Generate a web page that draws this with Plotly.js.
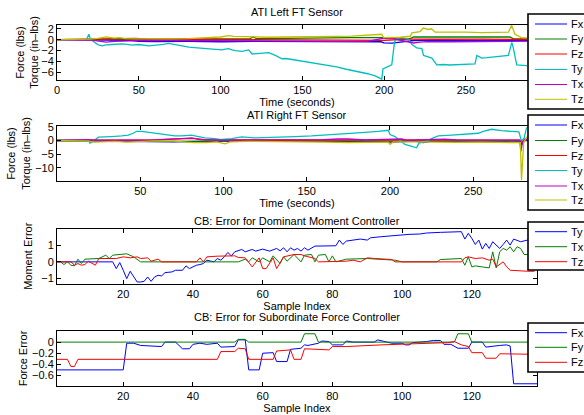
<!DOCTYPE html>
<html><head><meta charset="utf-8">
<script src="https://cdn.plot.ly/plotly-3.0.1.min.js"></script>
<style>html,body{margin:0;padding:0;background:#fff}#chart{width:584px;height:415px}</style>
</head><body><div id="chart"></div>
<script>
// ---------------- DATA ----------------
const ftNames = ['Fx','Fy','Fz','Ty','Tx','Tz'];
const ftColors = ['#0000FF','#008000','#FF0000','#00BFBF','#BF00BF','#BFBF00'];
const domNames = ['Ty','Tx','Tz'];
const subNames = ['Fx','Fy','Fz'];
const errColors = ['#0000FF','#008000','#FF0000'];

// ATI Left FT Sensor (time in seconds)
const leftFx_t = [0,20,30,45,50,60,80,100,120,140,160,180,198,200,205,210,218,230,250,270,278,280,293.5];
const leftFx   = [0,0,-0.05,-0.1,-0.3,-0.35,-0.3,-0.38,-0.3,-0.35,-0.38,-0.35,-0.38,-0.6,-0.63,-0.45,-0.15,-0.05,-0.05,-0.05,-0.1,-0.15,-0.15];
const leftFy_t = [0,20,40,60,80,100,118,120,122,140,160,180,199,201,216,218,240,260,277,279,293.5];
const leftFy   = [0,0.05,0.1,0.05,0.1,0.15,0.2,0.5,0.2,0.25,0.38,0.38,0.38,0.2,0.2,0.5,0.5,0.5,0.5,0.15,0.13];
const leftFz_t = [0,20,30,48,55,80,100,120,140,160,180,200,216,230,260,280,293.5];
const leftFz   = [0,0.05,0.1,0.25,0.1,0.05,0.1,0.05,0.05,-0.1,-0.13,-0.13,0.1,0.13,0.1,0.05,0.05];
const leftTy_t = [0,10,18,19.5,20.5,22.5,25,27.6,30,33.7,36,39.8,43,45.9,50,53,56.1,59,62.2,65,68.3,71,74.5,78,80.6,84,86.7,90,92.8,96,100.9,103,105,107,109.1,113.1,117.2,119.3,122,125.4,129.4,133.5,137.6,140,143.7,146,148.8,152,155.9,160,166.1,171,176.2,181,186.4,190,194.6,198.6,199.3,201.7,204.7,206.4,207.8,210.9,214.9,217,220,223.1,224.1,226,229.2,232.2,236,240,243.4,248,252,255.6,256.7,259.7,263,267.9,272,276,278.1,279.1,281.1,284,287.2,290,293.5];
const leftTy   = [0,0,0.05,1.0,0,-0.37,-0.9,-1.13,-0.95,-0.88,-0.82,-0.75,-0.85,-1.0,-0.88,-1.0,-1.13,-1.05,-1.0,-0.85,-0.69,-0.85,-1.0,-1.2,-1.38,-1.45,-1.5,-1.62,-1.75,-1.8,-1.88,-1.75,-1.63,-1.85,-2.0,-2.13,-1.88,-2.63,-2.55,-2.5,-2.38,-2.88,-3.5,-3.45,-3.63,-3.8,-4.0,-4.1,-4.25,-4.45,-4.75,-5.0,-5.38,-5.65,-6.0,-6.25,-6.63,-7.25,-5.38,-5.07,-4.63,-0.38,0.25,0.38,0.13,-0.88,-1.5,-1.63,-2.88,-3.05,-3.38,-4.63,-4.55,-4.65,-4.63,-4.6,-4.5,-4.44,-2.88,-3.38,-3.3,-3.19,-3.05,-2.88,-0.5,-1.63,-4.63,-4.7,-4.75,-4.7,-4.7];
const leftTx_t = [0,20,30,35,45,50,70,90,110,130,150,170,190,199,202,206,210,215,218,222,226,240,260,278,280,293.5];
const leftTx   = [0,-0.05,-0.45,-0.3,-0.2,-0.15,-0.15,-0.2,-0.15,-0.25,-0.3,-0.3,-0.3,0.25,0.25,0.2,-0.1,-0.5,-0.6,-0.45,-0.35,-0.38,-0.35,-0.3,-0.25,-0.25];
const leftTz_t = [0,15,20,25,30,35,38,42,50,60,70,80,90,95,100,105,108,115,120,130,140,150,160,170,180,186,194,198.6,199.7,205,210,216,217,222,224,227,229,231.2,240,250,260,270,276,278,280,284,290,293.5];
const leftTz   = [0,0.05,0.1,0.25,0.5,0.3,0.38,0.2,0.15,0.2,0.15,0.2,0.38,0.4,0.5,0.75,0.6,0.55,0.5,0.45,0.5,0.5,0.55,0.6,0.65,0.75,0.85,1.0,0.38,0.38,0.45,0.63,1.25,1.5,2.13,1.88,2.0,1.38,1.4,1.38,1.3,1.35,1.38,2.63,1.0,0.38,0.25,0.25];

// ATI Right FT Sensor (time in seconds)
const rightFx_t = [0,20,40,50,70,90,110,140,160,198,200,205,215,220,224,250,278,279,281,288.3];
const rightFx   = [0,-0.1,-0.4,-0.5,-0.5,-0.3,-0.2,-0.2,-0.3,-0.3,-0.6,-0.5,-0.2,-0.73,-0.3,-0.2,-0.2,-1.5,0,0];
const rightFy_t = [0,30,60,100,150,200,230,278,279.5,281,288.3];
const rightFy   = [0,-0.2,-0.3,-0.2,-0.3,-0.3,-0.2,-0.2,-0.8,0.2,0.2];
const rightFz_t = [0,30,60,75,83,90,120,160,200,240,278,279,281,288.3];
const rightFz   = [0,0.15,0.2,0.72,0.72,0.2,0.15,0.1,0.15,0.1,0.1,-0.5,0.2,0.2];
const rightTy_t = [0,18.8,19.8,21.8,24.8,28.8,32.8,38.8,42.8,45.8,47.8,50.8,53.8,58.8,64.8,70.8,74.8,80.8,84.9,88.9,94.9,98.9,104.9,110.9,118.9,126.9,134.9,143,152.9,162.9,172.9,182.9,192.9,199,200,203,206,209,212,216,217.4,222,225,229,237,245,253,256,261,267,275,277.4,279,280.6,282,285,288.3];
const rightTy   = [0,0.1,-0.97,-0.25,1.2,1.2,1.44,1.68,1.93,2.65,3.37,3.37,3.13,2.65,2.17,1.68,1.68,1.93,1.44,0.97,0.72,0.36,0.72,1.32,0.97,1.2,1.44,1.44,1.68,2.17,2.41,2.9,3.37,3.75,2.17,1.44,0,-1.44,-1.93,-2.65,-0.97,-0.25,0.72,1.68,1.93,2.41,2.65,3.37,4.1,3.62,3.37,3.13,-0.25,0.97,4.58,5.0,5.2];
const rightTx_t = [0,18,25,40,55,75,81,86,100,120,145,160,169,175,185,199,207,210,227,233,240,260,278,278.6,279.5,281,288.3];
const rightTx   = [0,0.3,0.1,0.2,0.1,0.7,0.97,0.3,0.1,0.2,0.1,0.3,0.55,0.55,0.2,0.55,0.55,0.1,0.55,0.5,0.2,0.1,0.1,-4,-1,0.5,0.5];
const rightTz_t = [0,15,18.8,22,26.8,35,42,48,58.8,70,82,90,96,100.9,104,115,130,145,160,175,190,199,200,202,215,225,240,255,270,278.3,279,279.7,280.3,282,288.3];
const rightTz   = [0,-0.1,-0.25,-0.6,-0.5,-0.3,-0.6,-0.4,-0.1,-0.2,-0.75,-0.8,-0.5,-1.2,-0.5,-0.3,-0.35,-0.3,-0.6,-0.8,-0.7,-0.6,-1.44,-0.5,-0.5,-0.6,-0.7,-0.6,-0.65,-0.8,-14.5,-7,-0.8,1.2,0.5];

// CB: Error for Dominant Moment Controller (sample index)
const domTy_idx = [1,17,18,19,20,21,22,23,24,25,26,27,28,29,30,31,32,34,35,37,38,39,41,42,43,44,46,47,48,49,50,51,52,54,55,57,58,60,62,64,65,66,67,68,69,70,71,72,73,75,78,81,82,83,84,86,88,90,91,94,97,100,102,105,107,111,113,117,118,119,120,121,122,123,124,125,126,128,129,130,131,132,134,136,138];
const domTy     = [0,0,-0.4,-0.04,-0.5,-1.0,-0.56,-0.9,-1.2,-1.2,-1.16,-0.9,-1.16,-0.9,-0.8,-0.84,-0.64,-0.6,-0.5,-0.5,-0.24,-0.4,-0.2,-0.16,-0.1,0.1,0,0.2,0.1,0.3,0.56,0.36,0.6,0.74,0.6,0.74,0.64,0.76,0.64,0.8,0.66,0.84,0.6,0.84,0.7,0.8,0.64,0.84,0.7,0.94,0.96,0.96,1.3,1.04,1.24,1.3,1.36,1.3,1.44,1.5,1.56,1.6,1.64,1.66,1.72,1.76,1.76,1.8,1.36,1.7,1.4,1.04,1.3,0.76,1.1,0.8,1.2,0.8,1.04,1.3,1.0,1.36,1.2,1.3,1.3];
const domTx_idx = [1,2,3,4,5,6,7,8,9,11,13,15,16,17,19,21,23,25,53,55,56,57,59,60,62,63,65,66,67,69,71,72,74,75,76,78,79,80,81,84,90,94,98,100,110,111,117,118,119,120,121,123,125,126,127,128,129,130,131,132,133,134,135,138];
const domTx     = [0,0,-0.16,0,-0.2,-0.24,0.16,-0.1,0.16,0.2,0.2,0.4,0.2,0.4,0.44,0.48,0.3,0,0,0.16,0,0.24,0,0.24,0,0.36,-0.1,0.3,0.04,0.44,0,0.4,0.44,0,0.4,0.44,0,0.36,0,0.16,0.2,0.14,0.1,0,0,0.14,0.2,-0.2,0.3,-0.3,-0.24,-0.3,-0.36,0.6,-0.36,0.6,0.8,0.7,0.9,0.6,0.9,0.8,0.44,0.44];
const domTz_idx = [1,5,6,7,8,9,10,12,13,15,17,18,20,22,24,25,27,28,30,31,41,42,43,44,47,52,53,55,57,59,60,61,63,64,66,67,69,71,72,75,76,84,86,88,90,92,94,97,98,117,118,119,121,123,125,126,127,129,130,131,136,138];
const domTz     = [0,0,-0.2,-0.1,-0.2,-0.16,0.04,-0.2,0.2,0.2,0.24,0.2,0.3,0.24,0.3,0.2,0.24,0.04,0.16,0,0,0.24,0,0.3,0.34,0.36,0.26,0.24,-0.3,0.24,-0.4,-0.4,0.24,-0.4,0.3,0.36,0.44,0.44,0.36,0.2,0,0.04,0.1,0,0.24,0.2,0.16,0.14,0,0,0.24,0.3,0.2,0.24,0.1,0.16,-0.3,0,-0.3,-0.5,-0.56,-0.56];

// CB: Error for Subordinate Force Controller (sample index)
const subFx_idx = [1,20,21,23,25,27,31,32,35,37,39,40,42,44,46,47,48,52,53,55,56,59,60,63,64,67,68,71,72,73,76,77,79,80,83,84,86,92,93,95,97,100,101,102,103,107,109,111,112,114,115,116,119,120,123,124,128,130,131,132,139];
const subFx     = [-0.5,-0.5,-0.02,-0.02,-0.06,-0.07,-0.08,0,0,-0.12,-0.12,-0.04,-0.02,-0.04,-0.03,-0.02,-0.09,-0.08,0.04,0.04,-0.5,-0.5,-0.2,-0.19,-0.35,-0.35,-0.13,-0.11,-0.05,-0.06,-0.02,0.02,0.01,-0.05,-0.05,0.02,0,0,0.04,0.01,-0.02,-0.02,-0.05,-0.05,-0.01,0.01,0.03,0.03,-0.04,-0.04,-0.07,-0.11,-0.11,0,0,-0.09,-0.06,-0.05,-0.07,-0.75,-0.75];
const subFy_idx = [1,52,53,55,56,71,72,75,76,115,116,119,120,139];
const subFy     = [0,0,0.05,0.05,0,0,0.15,0.15,0,0,0.15,0.15,0,0];
const subFz_idx = [1,4,5,6,7,47,48,52,53,55,56,63,64,68,69,71,72,79,80,84,94,101,108,113,115,117,119,120,123,124,127,128,136,139];
const subFz     = [-0.31,-0.31,-0.44,-0.44,-0.31,-0.31,-0.17,-0.17,-0.11,-0.12,-0.31,-0.31,-0.16,-0.14,-0.31,-0.31,-0.12,-0.14,-0.08,-0.08,-0.05,-0.03,-0.02,-0.01,0.01,-0.05,-0.08,-0.19,-0.19,-0.29,-0.29,-0.21,-0.21,-0.22];

const timeTicks1 = [0,50,100,150,200,250];
const timeTicks2 = [50,100,150,200,250];
const idxTicks = [20,40,60,80,100,120];

// ---------------- BUILD ----------------
const W = 584, H = 415;
const px = x => x / W, py = y => 1 - y / H;
const traces = [];
function add(xs, ys, name, color, ax, w) {
  traces.push({x: xs, y: ys, name: name, type: 'scatter', mode: 'lines',
    line: {color: color, width: w}, xaxis: 'x' + ax, yaxis: 'y' + ax, showlegend: false, hoverinfo: 'skip'});
}
add(leftFx_t, leftFx, ftNames[0], ftColors[0], '', 1.3);
add(leftFy_t, leftFy, ftNames[1], ftColors[1], '', 1.3);
add(leftFz_t, leftFz, ftNames[2], ftColors[2], '', 1.3);
add(leftTy_t, leftTy, ftNames[3], ftColors[3], '', 1.3);
add(leftTx_t, leftTx, ftNames[4], ftColors[4], '', 1.3);
add(leftTz_t, leftTz, ftNames[5], ftColors[5], '', 1.3);
add(rightFx_t, rightFx, ftNames[0], ftColors[0], '2', 1.3);
add(rightFy_t, rightFy, ftNames[1], ftColors[1], '2', 1.3);
add(rightFz_t, rightFz, ftNames[2], ftColors[2], '2', 1.3);
add(rightTy_t, rightTy, ftNames[3], ftColors[3], '2', 1.3);
add(rightTx_t, rightTx, ftNames[4], ftColors[4], '2', 1.3);
add(rightTz_t, rightTz, ftNames[5], ftColors[5], '2', 1.3);
add(domTy_idx, domTy, domNames[0], errColors[0], '3', 1);
add(domTx_idx, domTx, domNames[1], errColors[1], '3', 1);
add(domTz_idx, domTz, domNames[2], errColors[2], '3', 1);
add(subFx_idx, subFx, subNames[0], errColors[0], '4', 1);
add(subFy_idx, subFy, subNames[1], errColors[1], '4', 1);
add(subFz_idx, subFz, subNames[2], errColors[2], '4', 1);

const FONT = {family: 'Liberation Sans, Arial, sans-serif', size: 11, color: '#000'};
function xax(dom, range, ticks, title, anchor) {
  return {domain: dom, range: range, tickvals: ticks, ticks: 'inside', ticklen: 4, tickcolor: '#000',
    showline: true, linecolor: '#000', linewidth: 1, mirror: 'ticks', showgrid: false, zeroline: false,
    anchor: anchor, tickfont: FONT, title: {text: title, font: FONT, standoff: 2}};
}
function yax(dom, range, ticks, title, anchor, standoff) {
  return {domain: dom, range: range, tickvals: ticks, ticks: 'inside', ticklen: 4, tickcolor: '#000',
    showline: true, linecolor: '#000', linewidth: 1, mirror: 'ticks', showgrid: false, zeroline: false,
    anchor: anchor, tickfont: FONT, title: {text: title, font: FONT, standoff: standoff}};
}
const xdom = [px(57), px(537)];
const layout = {
  width: W, height: H, paper_bgcolor: '#fff', plot_bgcolor: '#fff', font: FONT,
  margin: {l: 0, r: 0, t: 0, b: 0, autoexpand: false}, showlegend: false,
  xaxis:  xax(xdom, [0, 293.5], timeTicks1, 'Time (seconds)', 'y'),
  yaxis:  yax([py(80), py(25)], [-7.4, 2.7], [-6,-4,-2,0,2], 'Force (lbs)<br>Torque (in–lbs)', 'x', 0),
  xaxis2: xax(xdom, [0, 288.3], timeTicks2, 'Time (seconds)', 'y2'),
  yaxis2: yax([py(181), py(126)], [-14.8, 5.3], [-10,-5,0,5], 'Force (lbs)<br>Torque (in–lbs)', 'x2', 2),
  xaxis3: xax(xdom, [1, 138.7], idxTicks, 'Sample Index', 'y3'),
  yaxis3: yax([py(283.5), py(229)], [-1.29, 1.96], [-1,0,1], 'Moment Error', 'x3', 6),
  xaxis4: xax(xdom, [1, 138.7], idxTicks, 'Sample Index', 'y4'),
  yaxis4: yax([py(386), py(331)], [-0.79, 0.2], [-0.6,-0.4,-0.2,0], 'Force Error', 'x4', 2),
  shapes: [], annotations: []
};
// subplot titles
[['ATI Left FT Sensor', 12], ['ATI Right FT Sensor', 115],
 ['CB: Error for Dominant Moment Controller', 221], ['CB: Error for Subordinate Force Controller', 317]]
.forEach(([t, y]) => layout.annotations.push({text: t, x: px(297), y: py(y), xref: 'paper', yref: 'paper',
  xanchor: 'center', yanchor: 'middle', showarrow: false, font: FONT}));

// legends (boxes overlapping the right edge, as in the original)
function legend(names, colors, top, bottom, ys) {
  layout.shapes.push({type: 'rect', xref: 'paper', yref: 'paper', x0: px(528), x1: px(640), y0: py(bottom), y1: py(top),
    line: {color: '#000', width: 1.6}, fillcolor: '#fff', layer: 'above'});
  names.forEach((n, i) => {
    layout.shapes.push({type: 'line', xref: 'paper', yref: 'paper', x0: px(535), x1: px(567), y0: py(ys[i]), y1: py(ys[i]),
      line: {color: colors[i], width: 1}, layer: 'above'});
    layout.annotations.push({text: n, x: px(569), y: py(ys[i]), xref: 'paper', yref: 'paper', xanchor: 'left',
      yanchor: 'middle', showarrow: false, font: FONT});
  });
}
legend(ftNames, ftColors, 14, 109, [24, 39, 54, 69.5, 84.5, 99.3]);
legend(ftNames, ftColors, 115, 210, [125, 140.5, 155.5, 170.5, 186, 200]);
legend(domNames, errColors, 222, 270, [231.7, 246.7, 261.7]);
legend(subNames, errColors, 323, 372, [332.7, 347.3, 362.3]);

Plotly.newPlot('chart', traces, layout, {staticPlot: true, displayModeBar: false});
</script>
</body></html>
